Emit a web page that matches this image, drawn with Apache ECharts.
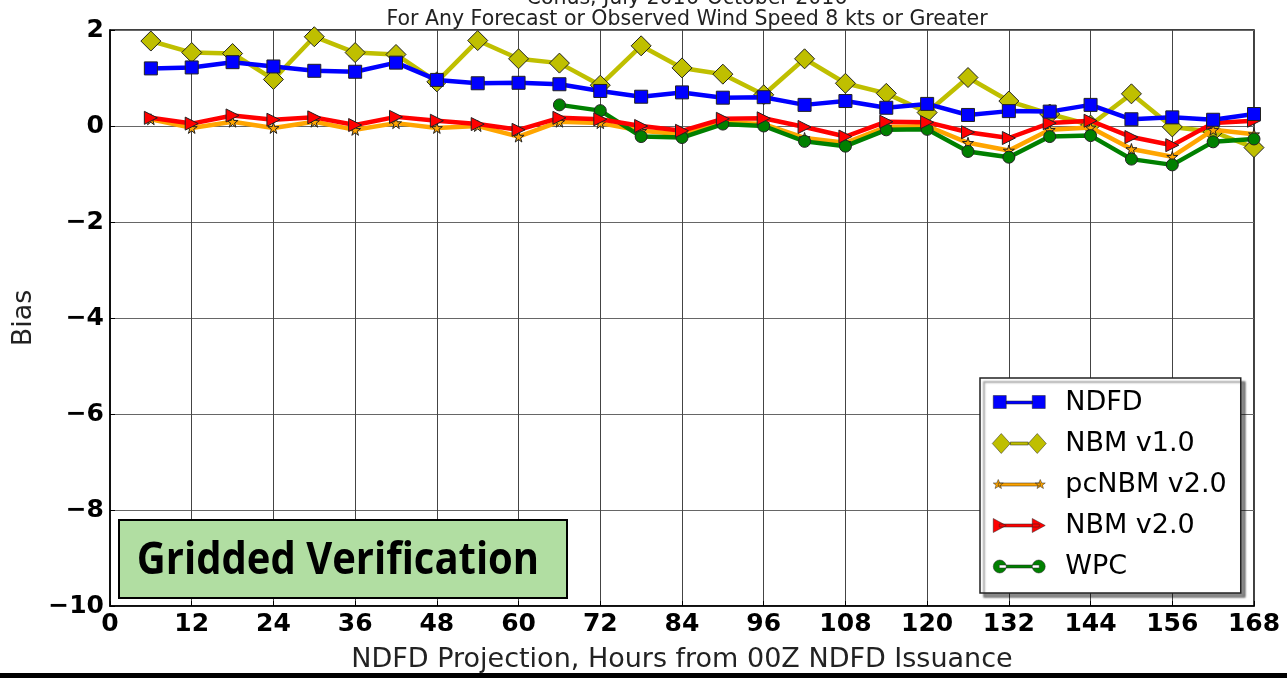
<!DOCTYPE html>
<html>
<head>
<meta charset="utf-8">
<script src="https://cdn.jsdelivr.net/npm/echarts@6/dist/echarts.min.js"></script>
<style>
  html, body { margin: 0; padding: 0; background: #fff; }
  #chart { width: 1287px; height: 678px; }
</style>
</head>
<body>
<div id="chart"></div>
<script>
// forecast projection hours
const hours = [6, 12, 18, 24, 30, 36, 42, 48, 54, 60, 66, 72, 78, 84, 90, 96, 102, 108, 114, 120, 126, 132, 138, 144, 150, 156, 162, 168]

const ndfd = [1.20, 1.22, 1.33, 1.24, 1.15, 1.13, 1.32, 0.96, 0.89, 0.90, 0.87, 0.73, 0.61, 0.70, 0.59, 0.60, 0.44, 0.52, 0.38, 0.46, 0.23, 0.31, 0.30, 0.44, 0.14, 0.18, 0.13, 0.25]
const nbm1 = [1.77, 1.53, 1.51, 0.97, 1.86, 1.53, 1.49, 0.92, 1.78, 1.40, 1.31, 0.85, 1.67, 1.21, 1.08, 0.65, 1.40, 0.89, 0.68, 0.28, 1.01, 0.52, 0.25, 0.02, 0.67, -0.02, -0.12, -0.45]
const pcnbm = [0.14, -0.04, 0.09, -0.04, 0.09, -0.08, 0.06, -0.04, 0.00, -0.22, 0.09, 0.06, -0.10, -0.17, 0.08, 0.04, -0.25, -0.35, -0.02, 0.00, -0.35, -0.51, -0.08, -0.03, -0.48, -0.64, -0.08, -0.17]
const nbm2 = [0.17, 0.05, 0.22, 0.13, 0.18, 0.02, 0.19, 0.11, 0.04, -0.08, 0.17, 0.14, 0.00, -0.10, 0.15, 0.16, -0.02, -0.22, 0.09, 0.08, -0.13, -0.25, 0.06, 0.11, -0.23, -0.40, 0.06, 0.11]
// WPC only starts at 66 h
const wpc = [null, null, null, null, null, null, null, null, null, null, 0.44, 0.32, -0.22, -0.24, 0.04, 0.00, -0.32, -0.42, -0.08, -0.07, -0.53, -0.65, -0.22, -0.20, -0.69, -0.81, -0.33, -0.27]

const names = ['NDFD', 'NBM v1.0', 'pcNBM v2.0', 'NBM v2.0', 'WPC']

const FONT = 'DejaVu Sans'
const STAR = 'path://M50,0 L61,35 L98,35 L68,57 L79,91 L50,70 L21,91 L32,57 L2,35 L39,35 Z'

// legend icons: marker - line - marker, corners pinned with M so all get the same box
const icons = {
  'NDFD': 'path://M0,0 M54,22 M1,4 H14 V17 H1 Z M14,9.5 H40 V12.5 H14 Z M40,4 H53 V17 H40 Z',
  'NBM v1.0': 'path://M0,0 M54,22 M0,11 L9,1 L18,11 L9,21 Z M18,9.5 H36 V12.5 H18 Z M36,11 L45,1 L54,11 L45,21 Z',
  'pcNBM v2.0': 'path://M0,0 M54,22 M6,6 L7.5,9.5 L11,9.5 L8.2,11.7 L9.2,15 L6,13 L2.8,15 L3.8,11.7 L1,9.5 L4.5,9.5 Z M6,9.5 H48 V12.5 H6 Z M48,6 L49.5,9.5 L53,9.5 L50.2,11.7 L51.2,15 L48,13 L44.8,15 L45.8,11.7 L43,9.5 L46.5,9.5 Z',
  'NBM v2.0': 'path://M0,0 M54,22 M1,4 L14,11 L1,18 Z M7,9.5 H47 V12.5 H7 Z M40,4 L53,11 L40,18 Z',
  'WPC': 'path://M0,0 M54,22 M1,11 A6.5,6.5 0 1,0 14,11 A6.5,6.5 0 1,0 1,11 Z M7,9.5 H47 V12.5 H7 Z M40,11 A6.5,6.5 0 1,0 53,11 A6.5,6.5 0 1,0 40,11 Z'
}

const pairs = arr => hours.map((h, i) => [h, arr[i]])

function lineSeries (name, data, color, symbol, size, z, extra) {
  return Object.assign({
    name: name,
    type: 'line',
    data: pairs(data),
    z: z,
    symbol: symbol,
    symbolSize: size,
    connectNulls: false,
    lineStyle: { color: color, width: 4.5 },
    itemStyle: { color: color, borderColor: '#222', borderWidth: 1 },
    emphasis: { disabled: true }
  }, extra || {})
}

const chart = echarts.init(document.getElementById('chart'))

const option = {
  animation: false,
  title: [
    {
      text: 'Conus, July 2016-October 2016',
      left: 682, textAlign: 'center', top: -17,
      textStyle: { fontFamily: FONT, fontSize: 20.5, fontWeight: 'normal', color: '#222' }
    },
    {
      text: 'For Any Forecast or Observed Wind Speed 8 kts or Greater',
      left: 682, textAlign: 'center', top: 4,
      textStyle: { fontFamily: FONT, fontSize: 20.5, fontWeight: 'normal', color: '#222' }
    }
  ],
  grid: {
    left: 110, right: 33, top: 30, bottom: 72,
    outerBoundsMode: 'none',
    containLabel: false,
    show: true, borderColor: '#000', borderWidth: 1.5, backgroundColor: '#fff'
  },
  xAxis: {
    type: 'value',
    min: 0, max: 168, interval: 12,
    name: 'NDFD Projection, Hours from 00Z NDFD Issuance',
    nameLocation: 'middle', nameGap: 40,
    nameTextStyle: { fontFamily: FONT, fontSize: 27, color: '#222' },
    axisLine: { show: true, onZero: false, lineStyle: { color: '#000', width: 1.5 } },
    axisTick: { show: true, inside: true, length: 5, lineStyle: { color: '#000' } },
    axisLabel: { fontFamily: FONT, fontSize: 25, fontWeight: 'bold', color: '#000', margin: 6 },
    splitLine: { show: true, lineStyle: { color: '#444', width: 1 } }
  },
  yAxis: {
    type: 'value',
    min: -10, max: 2, interval: 2,
    name: 'Bias',
    nameLocation: 'middle', nameGap: 71, nameRotate: 90,
    nameTextStyle: { fontFamily: FONT, fontSize: 27, color: '#222' },
    axisLine: { show: true, lineStyle: { color: '#000', width: 1.5 } },
    axisTick: { show: true, inside: true, length: 5, lineStyle: { color: '#000' } },
    axisLabel: {
      fontFamily: FONT, fontSize: 25, fontWeight: 'bold', color: '#000', margin: 6,
      formatter: v => String(v).replace('-', '\u2212')
    },
    splitLine: { show: true, lineStyle: { color: '#666', width: 1 } }
  },
  legend: {
    orient: 'vertical',
    left: 980, top: 378,
    padding: [11, 14, 13, 12],
    itemGap: 14,
    itemWidth: 54, itemHeight: 22,
    align: 'left',
    backgroundColor: '#fff',
    borderColor: '#222', borderWidth: 1.5,
    shadowColor: 'rgba(0,0,0,0.45)', shadowBlur: 2, shadowOffsetX: 4, shadowOffsetY: 4,
    selectedMode: false,
    itemStyle: { borderWidth: 0.5 },
    textStyle: { fontFamily: FONT, fontSize: 27, color: '#000', lineHeight: 27, padding: [0, 0, 0, 14] },
    data: names.map(n => ({ name: n, icon: icons[n] }))
  },
  graphic: [
    {
      type: 'rect',
      shape: { x: 119, y: 520, width: 448, height: 78 },
      style: { fill: '#b1dea2', stroke: '#000', lineWidth: 2 },
      z: 100
    },
    {
      type: 'text',
      x: 338, y: 561,
      scaleY: 1.1,
      style: {
        text: 'Gridded Verification',
        fontFamily: 'Open Sans', fontWeight: 'bold', fontSize: 40,
        fill: '#000', align: 'center', verticalAlign: 'middle'
      },
      z: 101
    },
    {
      type: 'rect',
      shape: { x: 0, y: 673, width: 1287, height: 5 },
      style: { fill: '#000' },
      z: 100
    }
  ],
  series: [
    lineSeries('NBM v1.0', nbm1, '#bfbf00', 'diamond', 20, 2),
    lineSeries('pcNBM v2.0', pcnbm, '#ffa500', STAR, 11, 3),
    lineSeries('WPC', wpc, '#008000', 'circle', 12, 4),
    lineSeries('NBM v2.0', nbm2, '#ff0000', 'triangle', 13, 5, { symbolRotate: -90 }),
    lineSeries('NDFD', ndfd, '#0000ff', 'rect', 13, 6)
  ]
}

chart.setOption(option)
</script>
</body>
</html>
